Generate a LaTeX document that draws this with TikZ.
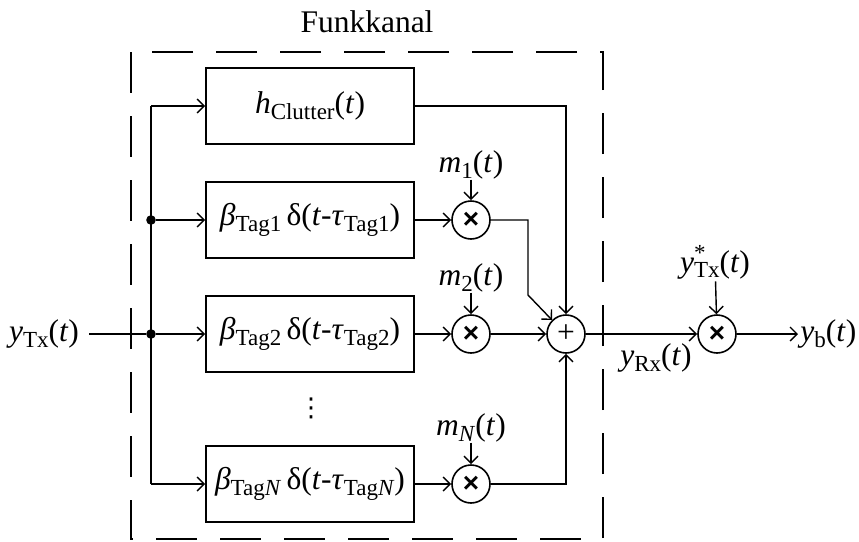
\documentclass[tikz,border=0pt]{standalone}
\usepackage{fontspec}
\setmainfont{Liberation Serif}
\newfontfamily\crossfont{Liberation Sans}
\newfontfamily\dotsfont{DejaVu Sans}
\usetikzlibrary{arrows.meta,positioning}
\newcommand{\sbs}[1]{\raisebox{-0.18em}{\fontsize{11.5}{12}\selectfont #1}}
\newcommand{\sps}[1]{\raisebox{0.38em}{\fontsize{11.5}{12}\selectfont #1}}
\newcommand{\mulsign}{{\crossfont\bfseries\fontsize{14}{14}\selectfont ×}}

\begin{document}
\begin{tikzpicture}[x=0.5pt,y=-0.5pt,>={Straight Barb[length=3.5pt,width=7pt]},
  font=\fontsize{15.75}{19}\selectfont,
  box/.style={draw,line width=0.9pt,minimum width=104pt,minimum height=38pt,inner sep=0pt},
  mult/.style={draw,circle,line width=0.8pt,minimum size=19pt,inner sep=0pt},
  lab/.style={inner sep=1pt},
  line/.style={line width=0.7pt},
  junc/.style={circle,fill,inner sep=0pt,minimum size=4.8pt}]
  \useasboundingbox (0,0) rectangle (859,542);
  % channel frame
  \node (title) at (367,22) {Funkkanal};
  \draw[line width=0.9pt,dash pattern=on 20.5pt off 11.5pt] (131,52) rectangle (603,539);
  % input and branches
  \node[lab,inner sep=5pt] (ytx) at (44,334) {\textit{y}\sbs{Tx}(\textit{t})};
  \coordinate (jtop) at (151,106);
  \coordinate (jbot) at (151,484);
  \node[junc] (j1) at (151,220) {};
  \node[junc] (j2) at (151,334) {};
  \node[box] (hc) at (310,106) {\textit{h}\sbs{Clutter}(\textit{t})};
  \node[box] (tag1) at (310,220) {\textit{β}\sbs{Tag1}\,δ(\textit{t}-\textit{τ}\sbs{Tag1})};
  \node[box] (tag2) at (310,334) {\textit{β}\sbs{Tag2}\,δ(\textit{t}-\textit{τ}\sbs{Tag2})};
  \node[box] (tagN) at (310,484) {\textit{β}\sbs{Tag\textit{N}}\,δ(\textit{t}-\textit{τ}\sbs{Tag\textit{N}})};
  \node (vdots) at (311,408) {\dotsfont\fontsize{13}{13}\selectfont ⋮};
  % modulators
  \node[mult] (x1) at (471,220) {\mulsign};
  \node[mult] (x2) at (471,334) {\mulsign};
  \node[mult] (xN) at (471,484) {\mulsign};
  \node[lab,inner sep=0pt] (m1) at (471,165) {\textit{m}\sbs{1}(\textit{t})};
  \node[lab,inner sep=0pt] (m2) at (471,278) {\textit{m}\sbs{2}(\textit{t})};
  \node[lab,inner sep=0pt] (mN) at (471,428) {\textit{m}\sbs{\textit{N}}(\textit{t})};
  % sum and mixer
  \node[mult] (sum) at (566,334) {+};
  \coordinate (k1) at (528,295);
  \node[mult] (xo) at (717,334) {\mulsign};
  \node[lab] (yrx) at (656,358) {\textit{y}\sbs{Rx}(\textit{t})};
  \node[lab] (yconj) at (715,262) {\textit{y}\rlap{\sps{*}}\sbs{Tx}(\textit{t})};
  \node[lab,anchor=west] (yb) at (798,334) {\textit{y}\sbs{b}(\textit{t})};

  \draw[line] (ytx) -- (j2);
  \draw[line] (jtop) -- (jbot);
  \draw[line,->] (jtop) -- (hc);
  \draw[line,->] (j1) -- (tag1);
  \draw[line,->] (j2) -- (tag2);
  \draw[line,->] (jbot) -- (tagN);
  \draw[line,->] (tag1) -- (x1);
  \draw[line,->] (tag2) -- (x2);
  \draw[line,->] (tagN) -- (xN);
  \draw[line,->] (m1) -- (x1);
  \draw[line,->] (m2) -- (x2);
  \draw[line,->] (mN) -- (xN);
  \draw[line,->] (hc.east) -| (sum);
  \draw[line,->] (x1) -| (k1) -- (sum.north west);
  \draw[line,->] (x2) -- (sum);
  \draw[line,->] (xN) -| (sum);
  \draw[line,->] (sum) -- (xo);
  \draw[line,->] (yconj) -- (xo);
  \draw[line,->] (xo) -- (yb);
\end{tikzpicture}
\end{document}
